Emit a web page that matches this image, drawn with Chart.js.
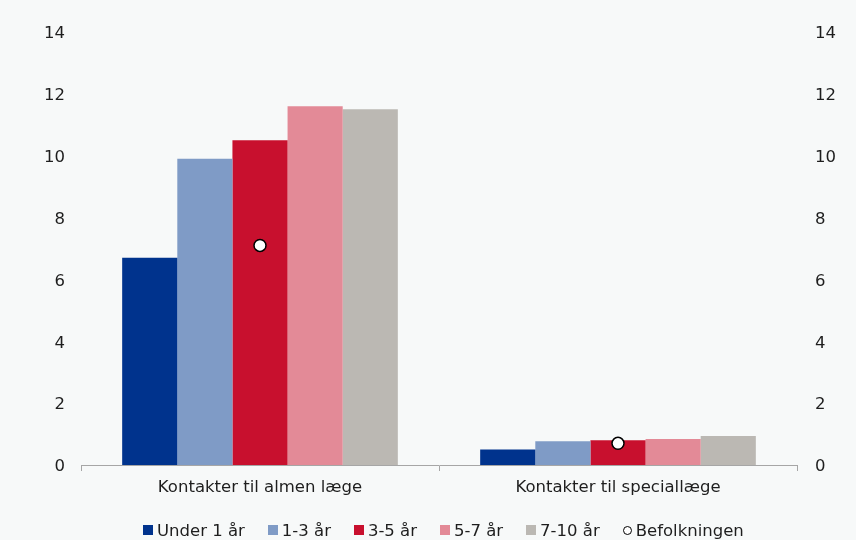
<!DOCTYPE html>
<html>
<head>
<meta charset="utf-8">
<script src="https://cdn.jsdelivr.net/npm/chart.js@4/dist/chart.umd.min.js"></script>
<style>
  html, body { margin: 0; padding: 0; background: #f7f9f9; }
  #wrap { position: relative; width: 856px; height: 540px; overflow: hidden; }
  #c { position: absolute; left: 0; top: 0; }
  #legend {
    position: absolute; left: 143px; top: 520px; height: 20px;
    display: flex; align-items: center; gap: 23px;
    font-family: "DejaVu Sans", Verdana, sans-serif; font-size: 16.5px; color: #1e1e1e;
    white-space: nowrap;
  }
  .item { display: flex; align-items: center; }
  .sw { width: 10px; height: 10px; margin-right: 4px; box-sizing: border-box; }
  .dot { width: 9px; height: 9px; border-radius: 50%; background: #fff; border: 1px solid #000; margin-right: 4px; box-sizing: border-box; }
</style>
</head>
<body>
<div id="wrap">
  <canvas id="c" width="856" height="540"></canvas>
  <div id="legend"></div>
</div>
<script>
// Contacts per child by age group, general practitioner vs specialist
const categories = ["Kontakter til almen læge", "Kontakter til speciallæge"];
const ageGroups = ["Under 1 år", "1-3 år", "3-5 år", "5-7 år", "7-10 år"];
const under1 = [6.7, 0.5];
const age1to3 = [9.9, 0.77];
const age3to5 = [10.5, 0.8];
const age5to7 = [11.6, 0.84];
const age7to10 = [11.5, 0.94];
const population = [7.1, 0.7];
const populationLabel = "Befolkningen";
const yTicks = [0, 2, 4, 6, 8, 10, 12, 14];

const barColors = ["#00338d", "#7f9bc6", "#c8102e", "#e38a97", "#bbb8b3"];
const seriesValues = [under1, age1to3, age3to5, age5to7, age7to10];

const FONT = "'DejaVu Sans', Verdana, sans-serif";
const tickFont = { family: FONT, size: 16.5 };
const axisColor = "#a6a6a6";

const datasets = ageGroups.map((name, i) => ({
  type: "bar",
  label: name,
  data: seriesValues[i],
  backgroundColor: barColors[i],
  borderWidth: 0,
  barPercentage: 1.0,
  categoryPercentage: 0.77,
  yAxisID: "y",
  order: 2
}));
datasets.push({
  type: "line",
  label: populationLabel,
  data: population,
  showLine: false,
  pointRadius: 6,
  pointHoverRadius: 6,
  pointBackgroundColor: "#ffffff",
  pointBorderColor: "#000000",
  pointBorderWidth: 1.5,
  yAxisID: "y",
  order: 1
});

const yScale = (position, pad) => ({
  position: position,
  min: 0,
  max: 14,
  afterBuildTicks: (s) => { s.ticks = yTicks.map(v => ({ value: v })); },
  grid: { display: false, drawTicks: false },
  border: { display: false },
  ticks: { font: tickFont, color: "#1e1e1e", padding: pad, labelOffset: 2 }
});

new Chart(document.getElementById("c"), {
  data: { labels: categories, datasets: datasets },
  options: {
    responsive: false,
    animation: false,
    events: [],
    layout: { padding: { top: 32, bottom: 40, left: 0, right: 0 } },
    plugins: { legend: { display: false }, tooltip: { enabled: false } },
    scales: {
      x: {
        offset: true,
        grid: { display: true, offset: true, drawOnChartArea: false, drawTicks: true, tickLength: 6, color: axisColor, lineWidth: 1 },
        border: { display: true, color: axisColor, width: 1 },
        ticks: { font: tickFont, color: "#1e1e1e", padding: 7, maxRotation: 0 },
        afterFit: (s) => { s.height = 35; }
      },
      y: Object.assign(yScale("left", 16), { afterFit: (s) => { s.width = 81; } }),
      y2: Object.assign(yScale("right", 18), { afterFit: (s) => { s.width = 59; } })
    }
  }
});

// Legend built from the series definitions
const legend = document.getElementById("legend");
ageGroups.forEach((name, i) => {
  const it = document.createElement("div");
  it.className = "item";
  const sw = document.createElement("div");
  sw.className = "sw";
  sw.style.background = barColors[i];
  it.appendChild(sw);
  it.appendChild(document.createTextNode(name));
  legend.appendChild(it);
});
const pit = document.createElement("div");
pit.className = "item";
const dot = document.createElement("div");
dot.className = "dot";
pit.appendChild(dot);
pit.appendChild(document.createTextNode(populationLabel));
legend.appendChild(pit);
</script>
</body>
</html>
